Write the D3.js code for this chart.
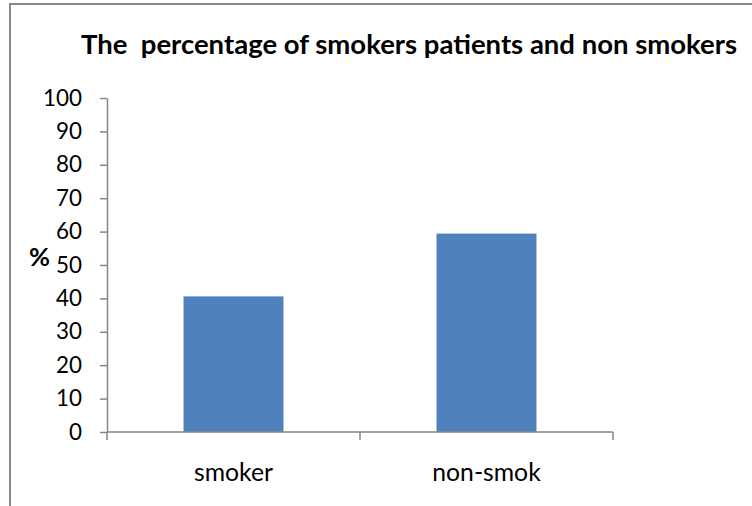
<!DOCTYPE html>
<html>
<head>
<meta charset="utf-8">
<script src="https://cdn.jsdelivr.net/npm/d3@7.9.0/dist/d3.min.js"></script>
<style>
  html, body { margin: 0; padding: 0; background: #fff; }
  svg { display: block; }
</style>
</head>
<body>
<div id="chart"></div>
<script>
// data
var categories = ["smoker", "non-smok"];
var percentages = [40.6, 59.4];
var yTicks = [0, 10, 20, 30, 40, 50, 60, 70, 80, 90, 100];
var titleText = "The  percentage of smokers patients and non smokers";

var W = 752, H = 506;
var FONT = "Lato, 'Open Sans', sans-serif";

// plot box
var X0 = 107, X1 = 613;
var Y0 = 432, Y1 = 98;

var svg = d3.select("#chart").append("svg")
  .attr("width", W).attr("height", H);

svg.append("rect").attr("width", W).attr("height", H).attr("fill", "#fff");

// outer chart frame (runs off the right / bottom edges)
svg.append("path")
  .attr("d", "M 10 " + (H + 5) + " V 4 H " + (W + 5))
  .attr("fill", "none")
  .attr("stroke", "#898989")
  .attr("stroke-width", 2);

var x = d3.scaleBand().domain(categories).range([X0, X1]).paddingInner(0.605).paddingOuter(0.3025);
var y = d3.scaleLinear().domain([0, 100]).range([Y0, Y1]);

// measure a string, return font size that gives the wanted width
function fitSize(str, weight, want) {
  var t = svg.append("text").attr("font-family", FONT).attr("font-weight", weight)
    .attr("font-size", "20px").style("white-space", "pre").text(str);
  var w = t.node().getComputedTextLength();
  t.remove();
  return 20 * want / w;
}
var labelSize = (fitSize("smoker", "normal", 80) + fitSize("non-smok", "normal", 107)) / 2;
var tickSize = fitSize("100", "normal", 39);

// bars
svg.append("g").selectAll("rect")
  .data(categories)
  .join("rect")
    .attr("x", function (d) { return x(d); })
    .attr("y", function (d, i) { return y(percentages[i]); })
    .attr("width", x.bandwidth())
    .attr("height", function (d, i) { return Y0 - y(percentages[i]); })
    .attr("fill", "#4f81bd");

var AXIS = "#868686";

// y axis
var yAxis = svg.append("g")
  .attr("transform", "translate(" + X0 + ",0)")
  .call(d3.axisLeft(y).tickValues(yTicks).tickSize(7).tickPadding(18).tickSizeOuter(0));
yAxis.select(".domain").attr("stroke", AXIS).attr("stroke-width", 1.5);
yAxis.selectAll(".tick line").attr("stroke", AXIS).attr("stroke-width", 1.5);
yAxis.selectAll(".tick text")
  .attr("fill", "#000").attr("font-family", FONT).attr("font-size", tickSize.toFixed(2) + "px");

// x axis: ticks between categories
var xAxis = svg.append("g").attr("transform", "translate(0," + Y0 + ")");
xAxis.append("line")
  .attr("x1", X0).attr("x2", X1)
  .attr("stroke", AXIS).attr("stroke-width", 1.5);
var step = (X1 - X0) / categories.length;
d3.range(categories.length + 1).forEach(function (i) {
  xAxis.append("line")
    .attr("x1", X0 + i * step).attr("x2", X0 + i * step)
    .attr("y1", 0).attr("y2", 8)
    .attr("stroke", AXIS).attr("stroke-width", 1.5);
});
xAxis.selectAll("text.cat")
  .data(categories)
  .join("text")
    .attr("class", "cat")
    .attr("x", function (d) { return x(d) + x.bandwidth() / 2; })
    .attr("y", 49)
    .attr("text-anchor", "middle")
    .attr("font-family", FONT).attr("font-size", labelSize.toFixed(2) + "px")
    .attr("fill", "#000")
    .text(function (d) { return d; });

// y axis label
svg.append("text")
  .attr("x", 39.5).attr("y", 257)
  .attr("dy", "0.35em")
  .attr("text-anchor", "middle")
  .attr("font-family", FONT).attr("font-size", fitSize("%", "bold", 21).toFixed(2) + "px")
  .attr("font-weight", "bold")
  .text("%");

// title, sized to span the same width as the reference
svg.append("text")
  .attr("x", 409).attr("y", 54)
  .attr("text-anchor", "middle")
  .attr("font-family", FONT).attr("font-weight", "bold")
  .attr("font-size", fitSize(titleText, "bold", 656).toFixed(2) + "px")
  .style("white-space", "pre")
  .text(titleText);
</script>
</body>
</html>
